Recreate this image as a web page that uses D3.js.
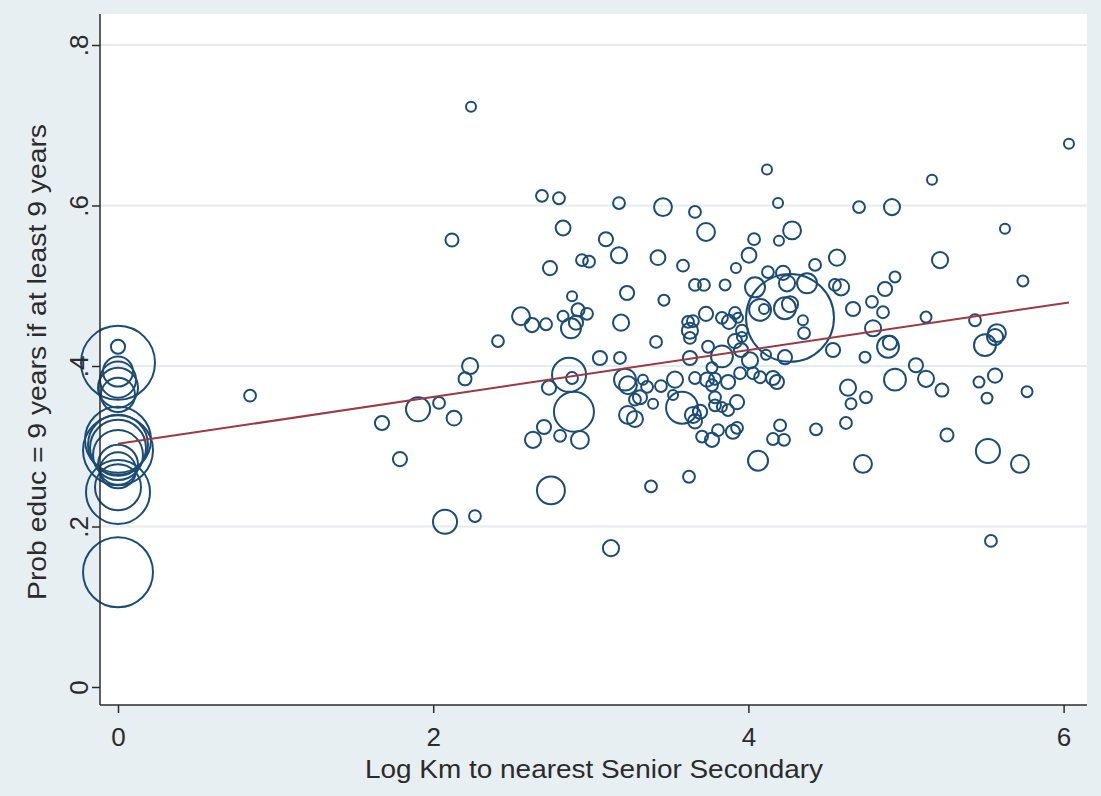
<!DOCTYPE html>
<html>
<head>
<meta charset="utf-8">
<script src="https://cdn.jsdelivr.net/npm/d3@7"></script>
<style>
  html, body { margin: 0; padding: 0; background: #e8eff3; }
  svg { display: block; font-family: "Liberation Sans", Arial, Helvetica, sans-serif; }
</style>
</head>
<body>
<svg id="chart" width="1101" height="796"></svg>
<script>
// Log distance (km) to nearest senior secondary school, by district
const logKm = [
  0,0,0,0,0,0,0,0,0,0,0,0,0,0,0,0,
  .838,2.240,6.034,1.675,1.789,1.904,2.037,2.132,2.119,2.075,2.265,2.202,2.234,2.411,
  2.690,2.798,2.824,3.096,2.944,2.989,2.741,2.881,2.919,2.976,2.824,2.557,2.627,2.716,
  2.874,2.906,3.230,3.192,3.058,3.185,2.862,2.881,2.735,2.893,2.703,2.633,2.805,2.931,
  2.747,3.128,3.217,3.236,3.331,3.357,3.280,3.312,3.236,3.280,3.179,3.458,3.661,4.118,
  4.188,3.731,4.277,4.194,4.036,3.179,3.426,4.004,4.562,3.585,3.921,4.423,4.124,4.220,
  3.661,3.718,3.852,4.042,4.245,4.372,4.549,4.588,3.464,4.074,4.099,4.232,4.264,3.731,
  3.617,3.648,3.832,3.877,3.915,3.934,3.629,3.629,3.959,3.959,4.346,4.353,4.264,3.414,
  3.744,3.629,4.232,4.537,3.915,3.953,3.832,4.010,3.769,4.112,4.664,4.784,4.867,4.854,
  4.791,4.740,3.534,3.661,3.737,3.769,3.788,3.871,3.947,4.029,4.074,4.156,4.181,3.445,
  3.395,3.522,3.579,3.648,3.661,3.693,3.788,3.832,3.871,3.928,3.788,3.706,3.769,3.807,
  3.902,3.928,4.061,4.201,4.156,4.226,4.429,4.619,3.623,3.382,4.702,4.911,5.165,5.628,
  5.216,5.742,4.930,5.127,5.438,5.577,5.565,5.501,4.886,4.898,5.063,4.930,5.127,5.228,
  4.632,4.746,4.651,5.463,5.565,5.514,5.768,5.260,5.520,4.727,5.723,5.539
];

// Probability of 9 years of education given at least 9 years
const probEduc = [
  .424,.404,.393,.383,.373,.364,.308,.302,.295,.298,.289,.277,.270,.249,.243,.143,
  .363,.723,.677,.329,.284,.346,.354,.335,.557,.206,.213,.384,.400,.431,
  .612,.609,.572,.558,.532,.530,.522,.487,.470,.465,.462,.462,.451,.452,
  .447,.454,.491,.454,.410,.410,.389,.385,.373,.343,.324,.308,.313,.308,
  .245,.173,.383,.376,.383,.374,.358,.361,.339,.334,.603,.598,.592,.645,
  .603,.567,.569,.556,.558,.538,.535,.538,.535,.525,.522,.526,.517,.516,
  .501,.501,.501,.498,.503,.503,.501,.498,.482,.470,.471,.472,.477,.465,
  .455,.456,.460,.455,.466,.460,.444,.435,.444,.436,.457,.441,.460,.430,
  .424,.410,.411,.420,.431,.420,.412,.407,.398,.414,.471,.480,.496,.467,
  .447,.411,.383,.385,.383,.376,.384,.380,.391,.391,.386,.385,.380,.375,
  .353,.364,.348,.339,.331,.343,.351,.349,.345,.355,.361,.312,.308,.320,
  .318,.323,.282,.326,.309,.308,.321,.329,.262,.250,.598,.598,.632,.571,
  .532,.506,.511,.461,.457,.441,.436,.426,.424,.429,.401,.383,.384,.370,
  .373,.361,.353,.380,.388,.360,.368,.314,.294,.278,.278,.182
];

// Frequency weight of each district (sets marker area)
const weight = [
  20,548,90,130,160,116,436,360,490,314,250,160,130,212,410,490,
  14,10,10,20,20,58,14,22,17,58,14,17,26,14,
  14,14,22,20,14,14,20,10,17,14,12,32,20,14,
  40,20,20,26,20,14,116,14,20,160,20,26,14,32,
  78,26,48,32,10,14,14,20,32,26,14,32,14,10,
  10,32,32,10,14,26,22,22,26,14,10,14,14,20,
  14,14,12,40,26,40,14,26,12,48,10,48,26,20,
  14,14,14,20,14,10,26,14,14,10,10,14,774,14,
  14,20,20,20,20,20,48,26,12,10,20,14,20,14,
  26,12,26,14,20,14,14,20,14,14,14,20,20,14,
  10,10,102,26,20,20,14,10,14,20,14,14,20,14,
  20,14,40,14,14,14,14,14,14,14,14,26,10,10,
  26,12,12,12,14,32,26,48,48,20,20,48,26,17,
  26,14,12,12,20,12,12,17,58,32,32,14
];

// Weighted linear fit: probEduc = intercept + slope * logKm
const fitIntercept = 0.303;
const fitSlope = 0.0292;

const xTicks = [0, 2, 4, 6];
const xTickLabels = ["0", "2", "4", "6"];
const yTicks = [0, 0.2, 0.4, 0.6, 0.8];
const yTickLabels = ["0", ".2", ".4", ".6", ".8"];

const xTitle = "Log Km to nearest Senior Secondary";
const yTitle = "Prob educ = 9 years if at least 9 years";

const W = 1101, H = 796;
const plot = { left: 100, right: 1087, top: 14, bottom: 705 };

const svg = d3.select("#chart");

const x = d3.scaleLinear().domain([0, 6]).range([118, 1063.6]);
const y = d3.scaleLinear().domain([0, 0.8]).range([687, 45]);
const r = d3.scaleSqrt().domain([0, 800]).range([0, 44.7]);

const navy = "#1b4c76";
const maroon = "#9a3a42";
const ink = "#2b2b2b";

// graph region and plot region
svg.append("rect").attr("width", W).attr("height", H).attr("fill", "#e8eff3");
svg.append("rect")
  .attr("x", plot.left).attr("y", plot.top)
  .attr("width", plot.right - plot.left).attr("height", plot.bottom - plot.top)
  .attr("fill", "#ffffff");

// horizontal gridlines
svg.append("g").selectAll("line")
  .data(yTicks.filter(d => d > 0))
  .join("line")
  .attr("x1", plot.left).attr("x2", plot.right)
  .attr("y1", d => y(d)).attr("y2", d => y(d))
  .attr("stroke", "#e6ecee").attr("stroke-width", 2);

// weighted hollow markers
svg.append("g").selectAll("circle")
  .data(logKm.map((v, i) => ({ x: v, y: probEduc[i], w: weight[i] })))
  .join("circle")
  .attr("cx", d => x(d.x)).attr("cy", d => y(d.y)).attr("r", d => r(d.w))
  .attr("fill", "none").attr("stroke", navy).attr("stroke-width", 2);

// fitted line over the observed range
const xMin = d3.min(logKm), xMax = d3.max(logKm);
svg.append("line")
  .attr("x1", x(xMin)).attr("y1", y(fitIntercept + fitSlope * xMin))
  .attr("x2", x(xMax)).attr("y2", y(fitIntercept + fitSlope * xMax))
  .attr("stroke", maroon).attr("stroke-width", 2);

// axes
const xAxis = svg.append("g")
  .attr("transform", `translate(0,${plot.bottom})`)
  .call(d3.axisBottom(x).tickValues(xTicks).tickSize(8).tickFormat((d, i) => xTickLabels[i]));
xAxis.select(".domain").remove();
xAxis.selectAll("line").attr("stroke", ink).attr("stroke-width", 1.5);
xAxis.selectAll("text").attr("fill", ink).attr("font-size", 26)
  .attr("y", 23).attr("dy", "0.71em");

const yAxis = svg.append("g")
  .attr("transform", `translate(${plot.left},0)`)
  .call(d3.axisLeft(y).tickValues(yTicks).tickSize(8).tickFormat((d, i) => yTickLabels[i]));
yAxis.select(".domain").remove();
yAxis.selectAll("line").attr("stroke", ink).attr("stroke-width", 1.5);
yAxis.selectAll("text")
  .attr("fill", ink).attr("font-size", 26)
  .attr("text-anchor", "middle")
  .attr("x", 0).attr("y", 0).attr("dy", 0)
  .attr("transform", "translate(-12,0) rotate(-90)");

svg.append("line")
  .attr("x1", plot.left).attr("x2", plot.left)
  .attr("y1", plot.top).attr("y2", plot.bottom)
  .attr("stroke", ink).attr("stroke-width", 1.5);
svg.append("line")
  .attr("x1", plot.left).attr("x2", plot.right)
  .attr("y1", plot.bottom).attr("y2", plot.bottom)
  .attr("stroke", ink).attr("stroke-width", 1.5);

// axis titles
svg.append("text")
  .attr("x", 594).attr("y", 778)
  .attr("text-anchor", "middle").attr("font-size", 26).attr("fill", ink)
  .attr("textLength", 458).attr("lengthAdjust", "spacingAndGlyphs")
  .text(xTitle);

svg.append("text")
  .attr("transform", "translate(46,362) rotate(-90)")
  .attr("text-anchor", "middle").attr("font-size", 26).attr("fill", ink)
  .attr("textLength", 476).attr("lengthAdjust", "spacingAndGlyphs")
  .text(yTitle);
</script>
</body>
</html>
